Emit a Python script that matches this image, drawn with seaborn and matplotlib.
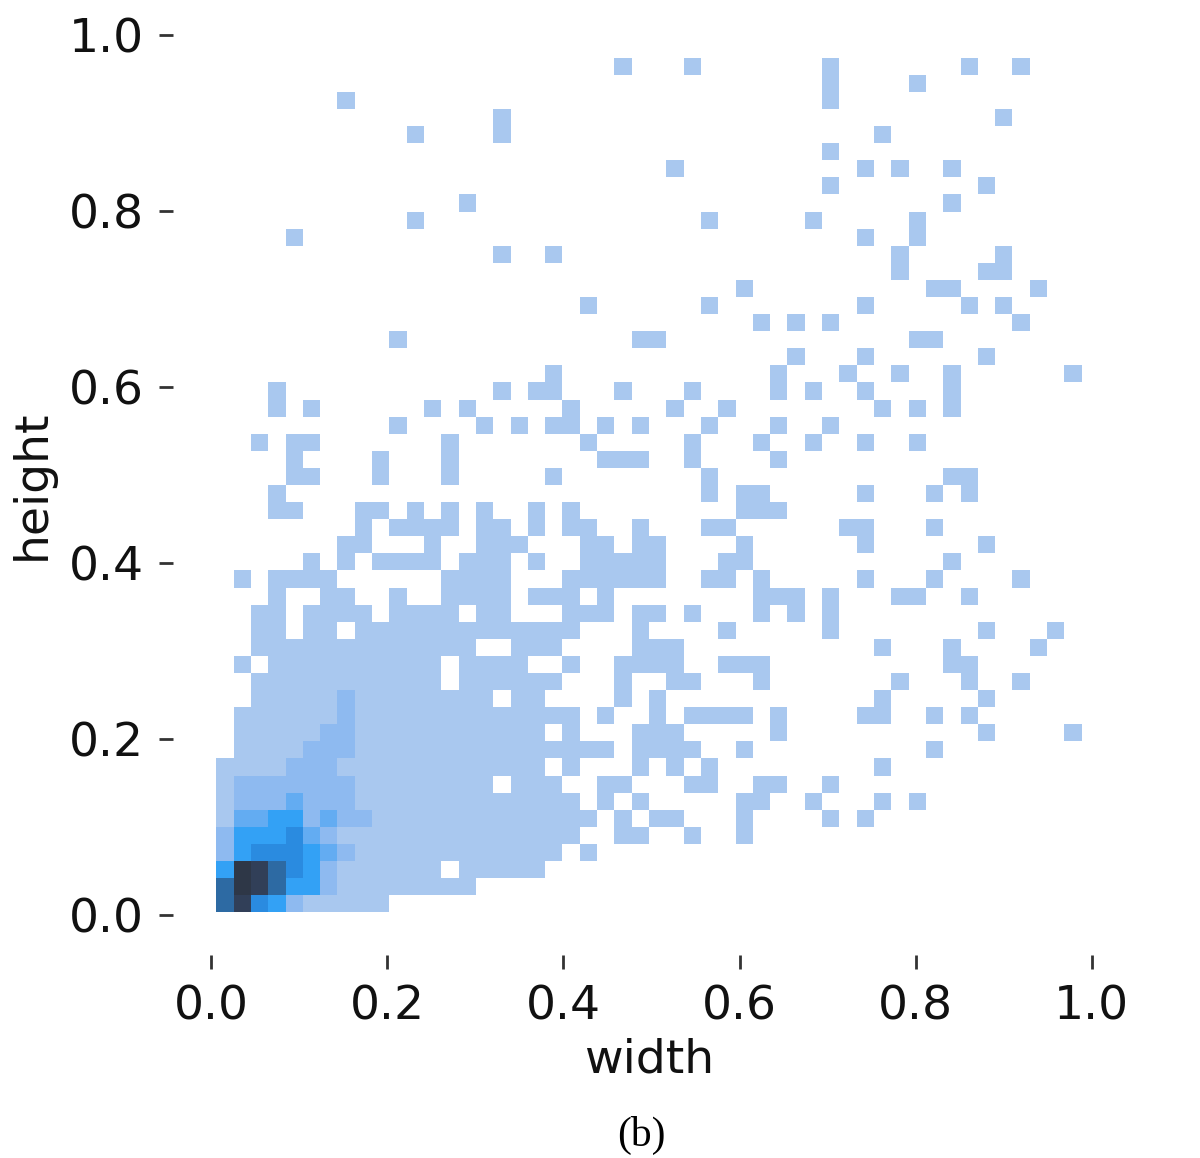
import numpy as np
import pandas as pd
import matplotlib
matplotlib.use("Agg")
import matplotlib.pyplot as plt
import seaborn as sns
from matplotlib.colors import LinearSegmentedColormap

# ---------------- data ----------------
# 50 x 50 bin grid, top string = highest "height" bin, left char = smallest "width" bin.
# '.' = empty bin, digit = count level (see level_counts). Spaces only group 10 bins.
count_rows = [
    ".......... .......... ...1...1.. .....1.... ...1..1...",
    ".......... .......... .......... .....1.... 1.........",
    ".......1.. .......... .......... .....1.... ..........",
    ".......... ......1... .......... .......... .....1....",
    ".......... .1....1... .......... ........1. ..........",
    ".......... .......... .......... .....1.... ..........",
    ".......... .......... ......1... .......1.1 ..1.......",
    ".......... .......... .......... .....1.... ....1.....",
    ".......... ....1..... .......... .......... ..1.......",
    ".......... .1........ ........1. ....1..... 1.........",
    "....1..... .......... .......... .......1.. 1.........",
    ".......... ......1..1 .......... .........1 .....1....",
    ".......... .......... .......... .........1 ....11....",
    ".......... .......... .......... 1......... .11....1..",
    ".......... .......... .1......1. .......1.. ...1.1....",
    ".......... .......... .......... .1.1.1.... ......1...",
    ".......... 1......... ....11.... .......... 11........",
    ".......... .......... .......... ...1...1.. ....1.....",
    ".......... .........1 .......... ..1...1..1 ..1......1",
    "...1...... ......1.11 ...1...1.. ..1.1..1.. ..1.......",
    "...1.1.... ..1.1..... 1.....1..1 ........1. 1.1.......",
    ".......... 1....1.1.1 1.1.1...1. ..1..1.... ..........",
    "..1.11.... ...1...... .1.....1.. .1..1..1.. 1.........",
    "....1....1 ...1...... ..111..1.. ..1....... ..........",
    "....11...1 ...1.....1 ........1. .......... ..11......",
    "...1...... .......... ........1. 11.....1.. .1.1......",
    "...11...11 .1.1.1..1. 1......... 111....... ..........",
    "........1. 1111.11.1. 11..1...11 ......11.. .1........",
    ".......11. ..1..111.. .11.11.... 1......1.. ....1.....",
    ".....1.1.1 111.111.1. .11111...1 1......... ..1.......",
    ".1.1111... ...1111... 111111..11 .1.....1.. .1....1...",
    "...1..11.. 1..1111.11 1.1....... .111.1...1 1..1......",
    "..11.1111. 1111.11... 111.11.1.. .1.1.1.... ..........",
    "..11.11.11 1111111111 1...1....1 .....1.... ....1...1.",
    "..11111111 11111..111 ....111... ........1. ..1....1..",
    ".1.1111111 111.1111.. 1..1111..1 11........ ..11......",
    "..11111111 111.111111 ...1..11.. .1.......1 ...1..1...",
    "..11111211 111111.11. ...1.1.... ........1. ....1.....",
    ".111111211 1111111111 1.1..1.111 1.1....11. .1.1......",
    ".111112211 111111111. 1...111... ..1....... ....1....1",
    ".111122211 1111111111 111.1111.. 1......... .1........",
    "1111222111 111111111. 1...1.1.1. ........1. ..........",
    "1222222211 111111.111 ..11...11. .11..1.... ..........",
    "1222322211 1111111111 1.1.1..... 11..1...1. 1.........",
    "1334423221 1111111111 11.1.11... 1....1.1.. ..........",
    "2444532111 1111111111 1..11..1.. 1......... ..........",
    "2455543211 1111111111 .1........ .......... ..........",
    "4986542111 111.11111. .......... .......... ..........",
    "6986442111 11111..... .......... .......... ..........",
    "6854211111 .......... .......... .......... ..........",
]
level_counts = [0, 1, 4, 8, 13, 18, 24, 30, 36, 40]
width_range = (0.0057, 0.9886)
height_range = (0.003, 0.974)
n_bins = 50
x_ticks = [0.0, 0.2, 0.4, 0.6, 0.8, 1.0]
y_ticks = [0.0, 0.2, 0.4, 0.6, 0.8, 1.0]
x_label = "width"
y_label = "height"
caption = "(b)"

# ---------------- build a weighted sample, one point per bin ----------------
grid = [r.replace(" ", "") for r in count_rows]
bw = (width_range[1] - width_range[0]) / n_bins
bh = (height_range[1] - height_range[0]) / n_bins
recs = []
for i, row in enumerate(grid):
    j = n_bins - 1 - i
    for c, ch in enumerate(row):
        if ch != ".":
            recs.append((width_range[0] + (c + 0.5) * bw,
                         height_range[0] + (j + 0.5) * bh,
                         level_counts[int(ch)]))
df = pd.DataFrame(recs, columns=[x_label, y_label, "count"])

# ---------------- plot ----------------
sns.set_theme(style="white")
plt.rcParams["font.family"] = ["DejaVu Sans"]

cmap = LinearSegmentedColormap.from_list("hist", [
    (0.0, "#acc9ef"), (1 / 40, "#a9c8ef"), (4 / 40, "#8dbaf0"),
    (8 / 40, "#63acf2"), (13 / 40, "#33a1f5"), (18 / 40, "#2a8be0"),
    (24 / 40, "#2d6aa3"), (30 / 40, "#2f5480"), (36 / 40, "#313f58"),
    (1.0, "#2e3747")])

fig = plt.figure(figsize=(12, 11.58), dpi=100)
ax = fig.add_axes([173 / 1200, (1158 - 955) / 1158, (1125 - 173) / 1200, (955 - 15) / 1158])

sns.histplot(data=df, x=x_label, y=y_label, weights="count",
             bins=n_bins, binrange=(width_range, height_range),
             cmap=cmap, vmin=0, vmax=level_counts[-1], ax=ax)

xs = width_range[1] - width_range[0]
ys = height_range[1] - height_range[0]
ax.set_xlim(width_range[0] - 0.05 * xs, width_range[1] + 0.05 * xs)
ax.set_ylim(height_range[0] - 0.05 * ys, height_range[1] + 0.05 * ys)
ax.set_xticks(x_ticks)
ax.set_yticks(y_ticks)
ax.set_xticklabels([f"{t:.1f}" for t in x_ticks])
ax.set_yticklabels([f"{t:.1f}" for t in y_ticks])

sns.despine(ax=ax, left=True, bottom=True)
ax.tick_params(axis="both", which="major", bottom=True, left=True,
               length=10, width=2, color="#333333", labelsize=34,
               labelcolor="#111111", pad=11)
ax.set_xlabel(x_label, fontsize=34, color="#111111", labelpad=6)
ax.set_ylabel(y_label, fontsize=34, color="#111111", labelpad=10)

fig.text(641 / 1200, 1 - 1135 / 1158, caption, ha="center", va="center",
         fontsize=30, family=["Liberation Serif", "DejaVu Serif"], color="black")

fig.savefig("out.png", dpi=100, facecolor="white")
